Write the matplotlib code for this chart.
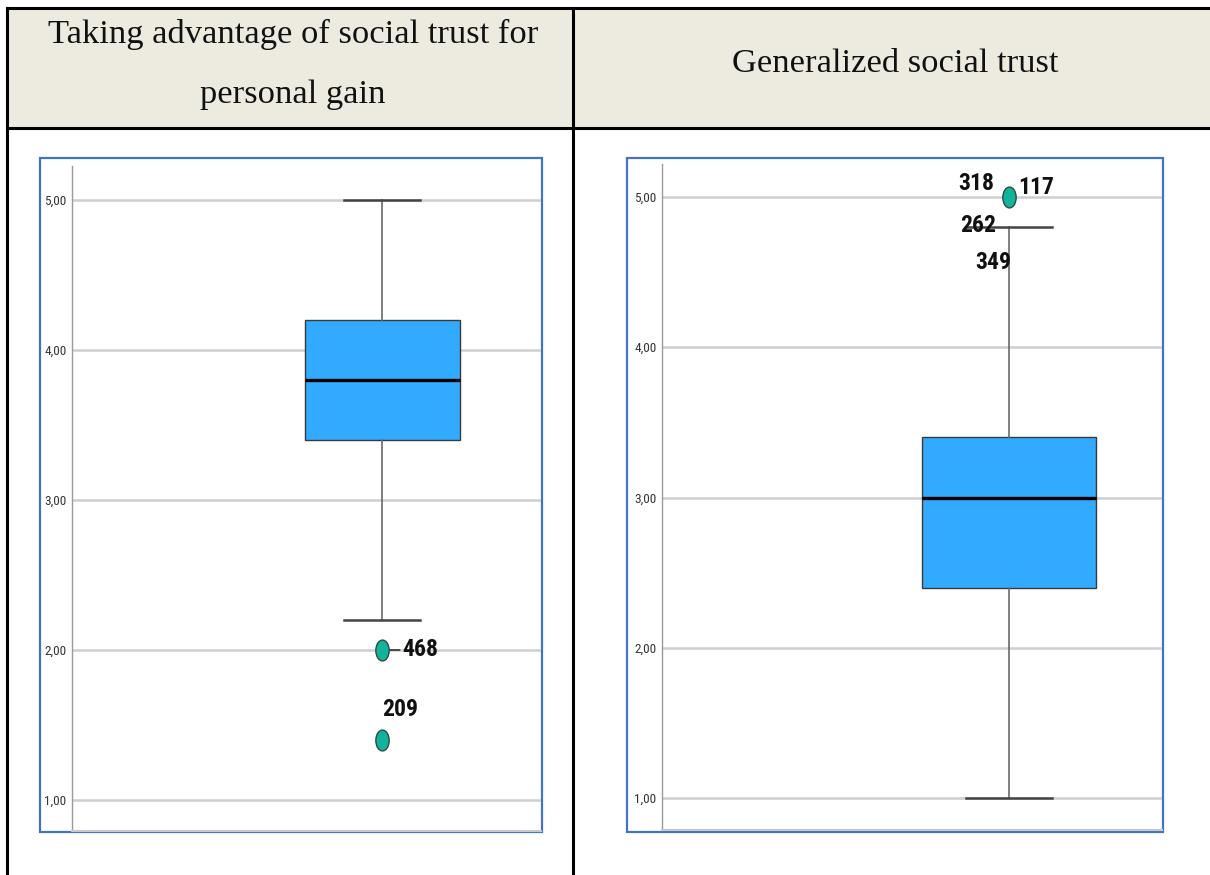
import matplotlib
matplotlib.use("Agg")
import matplotlib.pyplot as plt
from matplotlib.path import Path
from matplotlib.transforms import Affine2D
from matplotlib.patches import Rectangle
from matplotlib.lines import Line2D

# ---- data -------------------------------------------------------------
title_left = ["Taking advantage of social trust for", "personal gain"]
title_right = "Generalized social trust"

# five-number summaries of the two scales
medians = [3.8, 3.0]
q1s = [3.4, 2.4]
q3s = [4.2, 3.4]
whisk_lo = [2.2, 1.0]
whisk_hi = [5.0, 4.8]
fliers = [[2.0, 1.4], [5.0]]

yticks = [1.0, 2.0, 3.0, 4.0, 5.0]
ytick_labels = ["1,00", "2,00", "3,00", "4,00", "5,00"]

# case labels: (case id, value it is attached to, offset in px, connector)
case_labels = [
    [("468", 2.0, (20, 0), True), ("209", 1.4, (18, 31), False)],
    [("318", 5.0, (-33, 14), False), ("117", 5.0, (27, 10), False),
     ("262", 4.8, (-31, 2), False), ("349", 4.8, (-16, -35), False)],
]

# ---- figure -----------------------------------------------------------
W, H = 1210, 875
fig = plt.figure(figsize=(W / 100, H / 100), dpi=100)
fig.patch.set_facecolor("white")

# table grid drawn in pixel coordinates
bg = fig.add_axes([0, 0, 1, 1])
bg.set_xlim(0, W)
bg.set_ylim(H, 0)
bg.axis("off")
bg.add_patch(Rectangle((7, 8), W - 7, 120, facecolor="#EDEBE0", edgecolor="none", zorder=0))
lw_tab = 2.2
bg.add_line(Line2D([7, W], [8, 8], color="black", lw=lw_tab))
bg.add_line(Line2D([7, W], [128, 128], color="black", lw=lw_tab))
bg.add_line(Line2D([7, 7], [8, H], color="black", lw=lw_tab))
bg.add_line(Line2D([573, 573], [8, H], color="black", lw=lw_tab))

serif = ["Liberation Serif", "DejaVu Serif"]
bg.text(293, 34, title_left[0], ha="center", va="center", fontsize=24.8,
        family=serif, color="#111111")
bg.text(293, 95, title_left[1], ha="center", va="center", fontsize=24.8,
        family=serif, color="#111111")
bg.text(895, 64, title_right, ha="center", va="center", fontsize=24.8,
        family=serif, color="#111111")

# blue frames around each chart
frames = [(40, 158, 502, 674), (627, 158, 536, 674)]
for (fx, fy, fw, fh) in frames:
    bg.add_patch(Rectangle((fx, fy), fw, fh, facecolor="white",
                           edgecolor="#4472C4", lw=1.6, zorder=1))

narrow = ["Liberation Sans Narrow", "Roboto Condensed", "Liberation Sans", "DejaVu Sans"]

# axes placement in pixels (left, top, right, bottom) and box geometry
panels = [
    dict(px=(72, 166, 541, 831), ylim=(1 - 31 / 150, 1 + 634 / 150),
         pos=0.662, width=0.331, cap=0.162),
    dict(px=(662, 164, 1162, 830), ylim=(1 - 32 / 150.25, 1 + 634 / 150.25),
         pos=0.694, width=0.348, cap=0.172),
]

ellipse = Path.unit_circle().transformed(Affine2D().scale(0.64, 1.0))

for i, p in enumerate(panels):
    l, t, r, b = p["px"]
    ax = fig.add_axes([l / W, 1 - b / H, (r - l) / W, (b - t) / H])
    ax.set_facecolor("none")
    ax.set_xlim(0, 1)
    ax.set_ylim(*p["ylim"])
    ax.set_xticks([])
    ax.set_yticks(yticks)
    ax.set_yticklabels(ytick_labels, family=narrow, fontsize=9.5,
                       fontstretch="condensed", color="#333333")
    ax.tick_params(axis="y", length=0, pad=4)
    ax.grid(axis="y", color="#CFCFCF", lw=1.8, zorder=0)
    ax.set_axisbelow(True)
    for s in ("top", "right"):
        ax.spines[s].set_visible(False)
    ax.spines["left"].set_color("#9A9A9A")
    ax.spines["left"].set_linewidth(1.0)
    ax.spines["bottom"].set_color("#C8C8C8")
    ax.spines["bottom"].set_linewidth(1.5)

    stats = [dict(med=medians[i], q1=q1s[i], q3=q3s[i],
                  whislo=whisk_lo[i], whishi=whisk_hi[i], fliers=fliers[i])]
    ax.bxp(stats, positions=[p["pos"]], widths=[p["width"]],
           capwidths=[p["cap"]], patch_artist=True, manage_ticks=False,
           boxprops=dict(facecolor="#31AAFF", edgecolor="#3A3A3A", lw=1.0),
           medianprops=dict(color="black", lw=2.4),
           whiskerprops=dict(color="#6A6A6A", lw=1.2),
           capprops=dict(color="#444444", lw=1.8),
           flierprops=dict(marker=ellipse, markersize=15,
                           markerfacecolor="#12B39B", markeredgecolor="#2E4A44",
                           markeredgewidth=1.0, zorder=5))

    for cid, val, (dx, dy), connect in case_labels[i]:
        kw = {}
        if connect:
            kw["arrowprops"] = dict(arrowstyle="-", color="#333333", lw=1.2,
                                    shrinkA=0, shrinkB=0)
        ax.annotate(cid, xy=(p["pos"], val),
                    xytext=(dx * 0.72, dy * 0.72), textcoords="offset points",
                    ha="left" if connect else "center", va="center",
                    fontsize=17, fontweight="bold", fontstretch="condensed",
                    family=narrow, color="#111111", zorder=3, **kw)

fig.savefig("out.png", dpi=100, facecolor="white")
